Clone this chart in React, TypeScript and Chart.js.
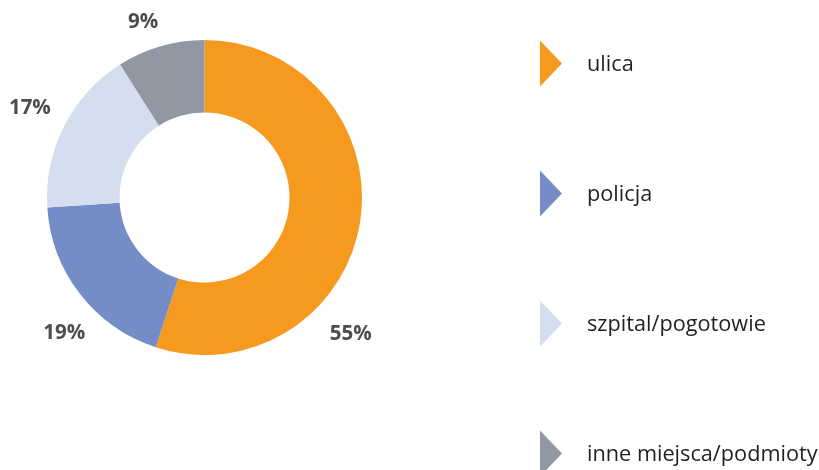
import React, { useEffect, useRef } from "react";
import { Chart, registerables } from "chart.js";

Chart.register(...registerables);

// ---- data ----
const categories: string[] = ["ulica", "policja", "szpital/pogotowie", "inne miejsca/podmioty"];
const shares: number[] = [55, 19, 17, 9];
const colors: string[] = ["#F6991F", "#758DC7", "#D5DEEF", "#9297A4"];

// ---- layout (not data) ----
// label anchor: degrees clockwise from 12 o'clock, distance from center in px
const LABEL_ANGLES: number[] = [133, 226, 297, 340.7];
const LABEL_DIST: number[] = [200, 195, 196, 186];
const LEGEND_X = 540;
const LEGEND_TOP = 63.5;
const LEGEND_STEP = 130;

const pctLabels = {
  id: "pctLabels",
  afterDatasetsDraw(chart: any) {
    const ctx = chart.ctx;
    const meta = chart.getDatasetMeta(0);
    ctx.save();
    ctx.font = "bold 20.5px 'Open Sans'";
    ctx.fillStyle = "#4D4D4D";
    ctx.textAlign = "center";
    ctx.textBaseline = "middle";
    meta.data.forEach((arc: any, i: number) => {
      const a = (LABEL_ANGLES[i] - 90) * Math.PI / 180;
      const x = arc.x + Math.cos(a) * LABEL_DIST[i];
      const y = arc.y + Math.sin(a) * LABEL_DIST[i];
      ctx.fillText(String(chart.data.datasets[0].data[i]) + "%", x, y);
    });
    ctx.restore();
  },
};

const sideLegend = {
  id: "sideLegend",
  afterDraw(chart: any) {
    const ctx = chart.ctx;
    const labels = chart.data.labels as string[];
    const bg = chart.data.datasets[0].backgroundColor as string[];
    ctx.save();
    labels.forEach((lab, i) => {
      const cy = LEGEND_TOP + i * LEGEND_STEP;
      ctx.fillStyle = bg[i];
      ctx.beginPath();
      ctx.moveTo(LEGEND_X, cy - 23);
      ctx.lineTo(LEGEND_X + 22, cy);
      ctx.lineTo(LEGEND_X, cy + 23);
      ctx.closePath();
      ctx.fill();
      ctx.fillStyle = "#231F20";
      ctx.font = "21.7px 'Open Sans'";
      ctx.textAlign = "left";
      ctx.textBaseline = "alphabetic";
      ctx.fillText(lab, LEGEND_X + 47, cy + 7);
    });
    ctx.restore();
  },
};

export default function App() {
  const ref = useRef<HTMLCanvasElement | null>(null);
  useEffect(() => {
    document.body.style.margin = "0";
    const canvas = ref.current!;
    const chart = new Chart(canvas, {
      type: "doughnut",
      data: {
        labels: categories,
        datasets: [
          {
            data: shares,
            backgroundColor: colors,
            borderWidth: 0,
          },
        ],
      },
      options: {
        responsive: false,
        animation: false,
        cutout: "54%",
        rotation: 0,
        layout: { padding: { left: 47, top: 40, right: 457, bottom: 115 } },
        plugins: {
          legend: { display: false },
          tooltip: { enabled: false },
        },
      },
      plugins: [pctLabels, sideLegend],
    });
    return () => chart.destroy();
  }, []);
  return (
    <div style={{ width: 819, height: 470, background: "#fff" }}>
      <canvas ref={ref} width={819} height={470} style={{ display: "block" }} />
    </div>
  );
}
